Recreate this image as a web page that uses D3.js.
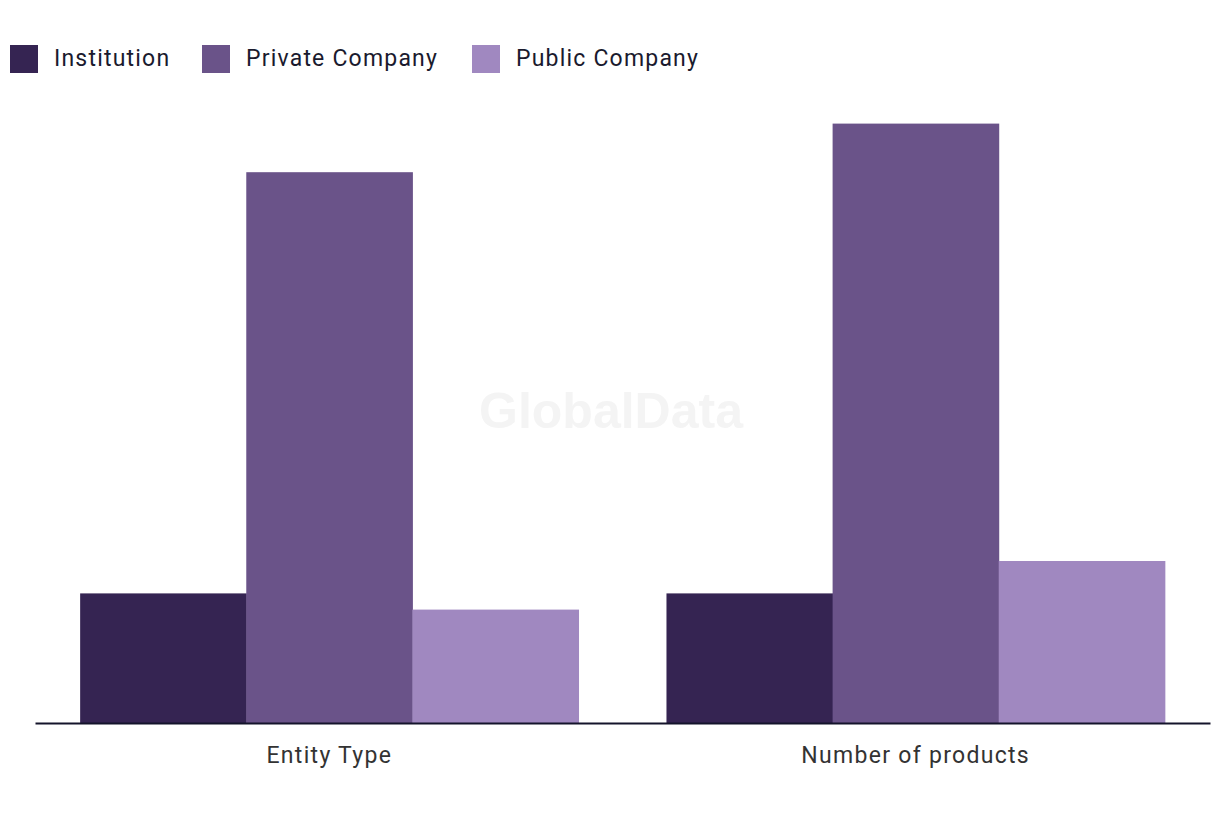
<!DOCTYPE html>
<html>
<head>
<meta charset="utf-8">
<script src="https://cdn.jsdelivr.net/npm/d3@7"></script>
<style>
  body { margin: 0; background: #fff; }
  svg text { font-family: Roboto, "Noto Sans", sans-serif; }
</style>
</head>
<body>
<svg id="chart" width="1220" height="820"></svg>
<script>
// data
var categories = ["Entity Type", "Number of products"];
var seriesNames = ["Institution", "Private Company", "Public Company"];
var institution = [8, 8];
var privateCompany = [34, 37];
var publicCompany = [7, 10];
var colors = ["#352452", "#6a5389", "#a088c0"];

var svg = d3.select("#chart");
var margin = {top: 75, right: 10, bottom: 97, left: 35};
var width = 1220 - margin.left - margin.right;
var height = 820 - margin.top - margin.bottom;

var values = [institution, privateCompany, publicCompany];

// watermark
svg.append("text")
    .attr("x", 611)
    .attr("y", 428)
    .attr("text-anchor", "middle")
    .style("font-family", "'Liberation Sans', Arial, sans-serif")
    .style("font-weight", "bold")
    .style("font-size", "50px")
    .style("fill", "#f4f4f4")
    .text("GlobalData");

var panel = svg.append("g")
    .attr("transform", "translate(" + margin.left + "," + margin.top + ")");

var x0 = d3.scaleBand()
    .domain(categories)
    .range([0, width])
    .paddingInner(0.15)
    .paddingOuter(0.077);

var x1 = d3.scaleBand()
    .domain(seriesNames)
    .range([0, x0.bandwidth()]);

var y = d3.scaleLinear()
    .domain([0, 40])
    .range([height, 0]);

categories.forEach(function (cat, ci) {
    var g = panel.append("g")
        .attr("transform", "translate(" + x0(cat) + ",0)");
    seriesNames.forEach(function (s, si) {
        g.append("rect")
            .attr("x", x1(s))
            .attr("y", y(values[si][ci]))
            .attr("width", x1.bandwidth() + 0.5)
            .attr("height", height - y(values[si][ci]))
            .style("fill", colors[si]);
    });
});

// x axis
var xAxis = d3.axisBottom(x0).tickSize(0).tickPadding(24);
var axisG = panel.append("g")
    .attr("transform", "translate(0," + height + ")")
    .call(xAxis);
axisG.select(".domain")
    .attr("stroke", "#14142b")
    .attr("stroke-width", 2);
axisG.selectAll("text")
    .style("font-size", "23px")
    .style("letter-spacing", "1.3px")
    .style("fill", "#333")
    .style("font-family", "Roboto, 'Noto Sans', sans-serif");

// legend
var legendX = [10, 202, 472];
seriesNames.forEach(function (s, i) {
    var lg = svg.append("g")
        .attr("transform", "translate(" + legendX[i] + ",45)");
    lg.append("rect")
        .attr("width", 28)
        .attr("height", 28)
        .style("fill", colors[i]);
    lg.append("text")
        .attr("x", 44)
        .attr("y", 21)
        .style("font-size", "23px")
        .style("letter-spacing", "1.2px")
        .style("fill", "#1a1a2e")
        .text(s);
});
</script>
</body>
</html>
